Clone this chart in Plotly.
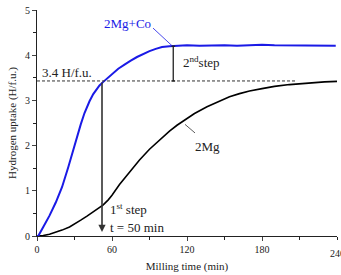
import plotly.graph_objects as go

# Data
t_co = [0, 1, 5, 10, 15, 18, 20, 25, 28, 30, 33, 35, 38, 40, 42, 45, 50, 53, 55, 60, 65, 70, 72, 75,
        80, 85, 90, 95, 100, 106, 110, 120, 130, 140, 150, 160, 170, 180, 190, 200, 210, 220, 230, 239]
h_co = [0.0, 0.0, 0.2, 0.45, 0.74, 0.93, 1.08, 1.52, 1.82, 2.02, 2.3, 2.47, 2.72, 2.86, 2.98, 3.14, 3.33, 3.41,
        3.46, 3.59, 3.7, 3.79, 3.83, 3.88, 3.96, 4.03, 4.09, 4.14, 4.18, 4.2, 4.21, 4.22, 4.21, 4.22, 4.22, 4.21,
        4.22, 4.23, 4.22, 4.22, 4.21, 4.22, 4.22, 4.21]

t_mg = [0, 5, 10, 15, 20, 26, 30, 35, 40, 45, 50, 53, 57, 60, 66, 74, 82, 90, 98, 106, 112, 118, 126, 136,
        146, 154, 162, 170, 180, 190, 202, 210, 220, 230, 240]
h_mg = [0.0, 0.01, 0.04, 0.08, 0.13, 0.2, 0.26, 0.35, 0.44, 0.53, 0.62, 0.69, 0.8, 0.9, 1.14, 1.42, 1.68, 1.92,
        2.13, 2.32, 2.45, 2.56, 2.71, 2.86, 2.99, 3.08, 3.15, 3.21, 3.26, 3.31, 3.35, 3.37, 3.39, 3.41, 3.42]

level = 3.43
step_t = 52
plateau = 4.2
step2_t = 109
x_ticks = [0, 60, 120, 180, 240]

FONT = "Liberation Serif"

fig = go.Figure()
fig.add_trace(go.Scatter(x=t_mg, y=h_mg, mode="lines", line=dict(color="black", width=1.6),
                         showlegend=False, hoverinfo="skip"))
fig.add_trace(go.Scatter(x=t_co, y=h_co, mode="lines", line=dict(color="#1a1ae6", width=2),
                         showlegend=False, hoverinfo="skip"))

shapes = [
    dict(type="line", x0=0, x1=208, y0=level, y1=level, line=dict(color="#333", width=1, dash="3px,2px")),
    dict(type="line", x0=step2_t, x1=step2_t, y0=level, y1=plateau, line=dict(color="#222", width=1.3)),
    dict(type="line", x0=step2_t - 1.5, x1=step2_t + 1.5, y0=level, y1=level, line=dict(color="#222", width=1.3)),
    dict(type="line", x0=step2_t - 1.5, x1=step2_t + 1.5, y0=plateau, y1=plateau, line=dict(color="#222", width=1.3)),
    dict(type="line", x0=92.8, x1=108, y0=4.6, y1=4.21, line=dict(color="#1a1ae6", width=0.8)),
    dict(type="line", x0=118.4, x1=126.4, y0=2.47, y1=2.28, line=dict(color="#333", width=0.8)),
]

annotations = [
    dict(x=step_t, y=0.09, ax=step_t, ay=level, xref="x", yref="y", axref="x", ayref="y",
         showarrow=True, arrowhead=2, arrowsize=0.9, arrowwidth=1.6, arrowcolor="#333", text=""),
    dict(x=72.4, y=4.71, text="2Mg+Co", showarrow=False, font=dict(family=FONT, size=13, color="#1a1ae6")),
    dict(x=136.4, y=1.99, text="2Mg", showarrow=False, font=dict(family=FONT, size=13, color="#222")),
    dict(x=24, y=3.62, text="3.4 H/f.u.", showarrow=False, font=dict(family=FONT, size=13, color="#222")),
    dict(x=115.5, y=3.84, text="2<sup>nd</sup>step", showarrow=False, xanchor="left",
         font=dict(family=FONT, size=13, color="#222")),
    dict(x=56.5, y=0.6, text="1<sup>st</sup> step", showarrow=False, xanchor="left",
         font=dict(family=FONT, size=13, color="#222")),
    dict(x=56.5, y=0.19, text="t = 50 min", showarrow=False, xanchor="left",
         font=dict(family=FONT, size=13, color="#222")),
    # last x tick label, drawn as text so it is clipped by the window edge like in the reference
    dict(x=x_ticks[-1], y=0, xref="x", yref="y", yshift=-10, yanchor="top", text=str(x_ticks[-1]),
         showarrow=False, font=dict(family=FONT, size=10, color="#222")),
]

fig.update_layout(
    width=341, height=275,
    margin=dict(l=37, r=4, t=6, b=39),
    plot_bgcolor="white", paper_bgcolor="white",
    font=dict(family=FONT, size=11, color="#222"),
    shapes=shapes, annotations=annotations,
    xaxis=dict(range=[0, 240], tickvals=x_ticks[:-1], ticks="outside", ticklen=4,
               showline=True, linecolor="#222", linewidth=1.2, showgrid=False, zeroline=False,
               minor=dict(dtick=30, ticks="outside", ticklen=3, tickcolor="#222"),
               title=dict(text="Milling time (min)", font=dict(family=FONT, size=11), standoff=8),
               tickfont=dict(family=FONT, size=10)),
    yaxis=dict(range=[0, 5], tickvals=[0, 1, 2, 3, 4, 5], ticks="outside", ticklen=4,
               showline=True, linecolor="#222", linewidth=1.2, showgrid=False, zeroline=False,
               minor=dict(dtick=0.5, ticks="outside", ticklen=3, tickcolor="#222"),
               title=dict(text="Hydrogen uptake (H/f.u.)", font=dict(family=FONT, size=11), standoff=6),
               tickfont=dict(family=FONT, size=10)),
)

fig.write_html("out.html")
